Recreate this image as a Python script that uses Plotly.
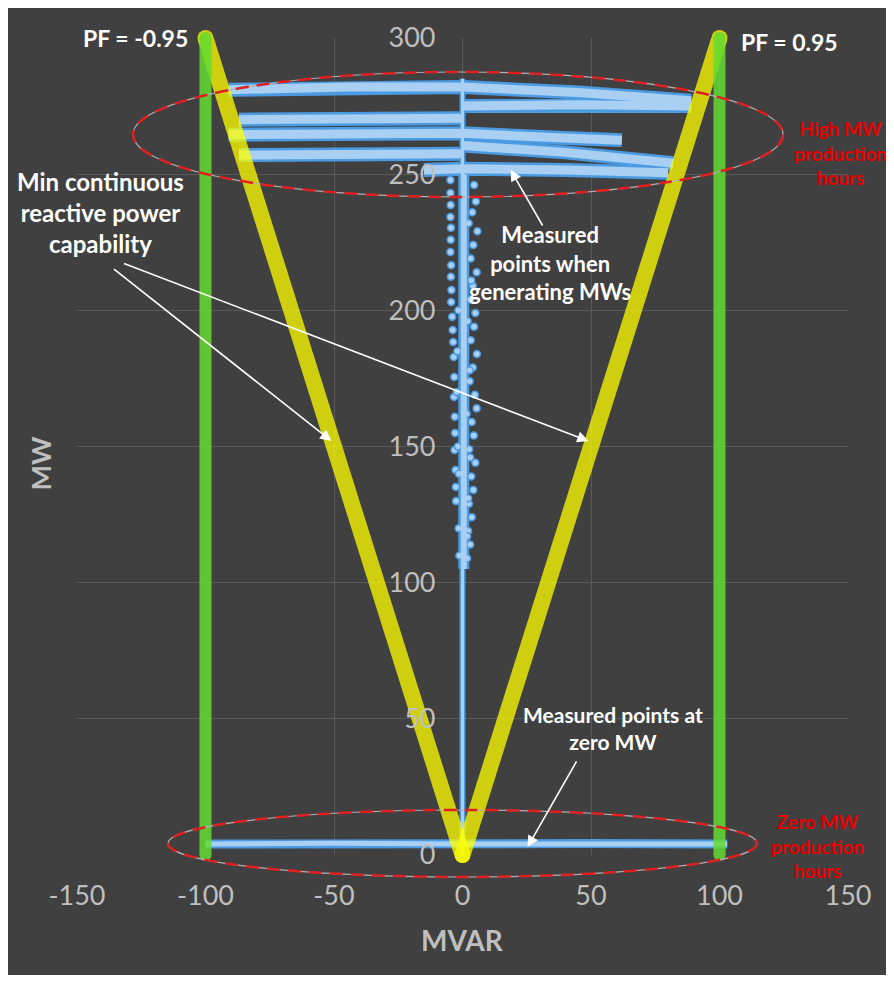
import plotly.graph_objects as go

# axis ticks
x_ticks = [-150, -100, -50, 0, 50, 100, 150]
x_tick_text = ["-150", "-100", "-50", "0", "50", "100", "150"]
y_ticks = [0, 50, 100, 150, 200, 250, 300]

# PF = +/-0.95 limits (MVAR, MW)
pf_neg_x = [-100, -100]
pf_neg_y = [0, 300]
pf_pos_x = [100, 100]
pf_pos_y = [0, 300]

# min continuous reactive power capability (V shape)
cap_left_x = [-100, 0]
cap_left_y = [300, 0]
cap_right_x = [0, 100]
cap_right_y = [0, 300]

# measured points: streaks at high MW
streak1_x = [-91, -45, 0, 45, 89]
streak1_y = [281, 282, 282, 280, 277]
streak2_x = [0, 45, 89]
streak2_y = [275, 275.5, 275]
streak3_x = [-87, -45, 0]
streak3_y = [270, 270, 270.5]
streak4_x = [-91, -45, 0, 35, 62]
streak4_y = [264.5, 265, 265, 263.5, 262.5]
streak5_x = [0, 40, 82]
streak5_y = [260.5, 258, 254]
streak6_x = [-87, -45, 0]
streak6_y = [257, 257, 257.5]
streak7_x = [-15, 0, 40, 80]
streak7_y = [251.5, 252, 251.5, 250.5]

# measured points: zero MW line
zero_x = [-100, -50, 0, 50, 103]
zero_y = [4, 4.3, 4, 4.2, 4]

# measured points: vertical column while ramping
column_x = [0, 0]
column_y = [0, 285]
core_x = [0.5, 0.5]
core_y = [105, 250]

dots_x = [-4.7, -4.7, -4.6, -4.7, -4.5, -4.6, -4.7, -4.4, -4.5, -4.3, -4.4, -4.0, -3.8, -3.6,
          -3.4, -3.2, -3.3, -3.0, -2.9, -3.1, -2.7, -2.6, -2.2, -1.8, -2.5, -1.5, -1.2,
          4.5, 5.2, 3.8, 5.8, 4.2, 3.2, 5.5, 4.0, 3.0, 5.0, 4.5, 3.2, 5.6, 4.0, 2.8, 4.8,
          5.5, 3.6, 4.4, 2.6, 5.0, 3.4, 4.2, 2.5, 3.6, 2.2, 3.0, 1.8,
          2.4, 3.4, 2.0, 2.8, 1.6, 3.0, 2.2, 1.8, -1.6, -2.0, -1.4]
dots_y = [247.9, 243.1, 238.7, 234.3, 230.3, 225.9, 221.4, 216.6, 212.3, 207.5, 203.1, 197.6, 192.8, 188.4,
          182.9, 175.5, 168.2, 160.9, 155, 148.7, 141.4, 135.1, 170, 150, 130, 120, 110,
          246, 240, 236, 229, 224, 219, 214, 209, 204, 199, 194, 189, 184, 179, 174, 169,
          164, 159, 154, 149, 144, 139, 134, 129, 124, 119, 114, 109,
          232, 211, 196, 178, 162, 146, 131, 117, 200, 185, 140]

BLUE_EDGE = "#4b9be2"
BLUE_CORE = "#a9cff2"
YELLOW = "#ffff00"
GREEN = "#64dc32"
TEXT_GREY = "#bfbfbf"
BG = "#404040"
FONT = "Lato"


def join(parts):
    xs, ys = [], []
    for px, py in parts:
        xs += list(px) + [None]
        ys += list(py) + [None]
    return xs, ys


streaks = [(streak1_x, streak1_y), (streak2_x, streak2_y), (streak3_x, streak3_y),
           (streak4_x, streak4_y), (streak5_x, streak5_y), (streak6_x, streak6_y),
           (streak7_x, streak7_y)]
sx, sy = join(streaks)

fig = go.Figure()

# blue measured points
fig.add_trace(go.Scatter(x=sx, y=sy, mode="lines", line=dict(color=BLUE_EDGE, width=14)))
fig.add_trace(go.Scatter(x=zero_x, y=zero_y, mode="lines", line=dict(color=BLUE_EDGE, width=9)))
fig.add_trace(go.Scatter(x=column_x, y=column_y, mode="lines", line=dict(color=BLUE_EDGE, width=6)))
fig.add_trace(go.Scatter(x=core_x, y=core_y, mode="lines", line=dict(color=BLUE_EDGE, width=11)))
fig.add_trace(go.Scatter(x=dots_x, y=dots_y, mode="markers",
                         marker=dict(color=BLUE_CORE, size=7, line=dict(color=BLUE_EDGE, width=1.5))))
fig.add_trace(go.Scatter(x=sx, y=sy, mode="lines", line=dict(color=BLUE_CORE, width=9)))
fig.add_trace(go.Scatter(x=zero_x, y=zero_y, mode="lines", line=dict(color=BLUE_CORE, width=5)))
fig.add_trace(go.Scatter(x=column_x, y=column_y, mode="lines", line=dict(color=BLUE_CORE, width=3)))
fig.add_trace(go.Scatter(x=core_x, y=core_y, mode="lines", line=dict(color=BLUE_CORE, width=6)))

# yellow capability lines
for cx, cy in [(cap_left_x, cap_left_y), (cap_right_x, cap_right_y)]:
    fig.add_trace(go.Scatter(x=cx, y=cy, mode="lines+markers", opacity=0.75, cliponaxis=False,
                             line=dict(color=YELLOW, width=16),
                             marker=dict(color=YELLOW, size=16)))

# green PF lines
for gx, gy in [(pf_neg_x, pf_neg_y), (pf_pos_x, pf_pos_y)]:
    fig.add_trace(go.Scatter(x=gx, y=gy, mode="lines+markers", opacity=0.85, cliponaxis=False,
                             line=dict(color=GREEN, width=12),
                             marker=dict(color=GREEN, size=12)))


def ellipse(x0, x1, y0, y1):
    fig.add_shape(type="circle", xref="paper", yref="paper", x0=x0, x1=x1, y0=y0, y1=y1,
                  line=dict(color="#b0b0b0", width=1.2))
    fig.add_shape(type="circle", xref="paper", yref="paper", x0=x0, x1=x1, y0=y0, y1=y1,
                  line=dict(color="#e02020", width=2.5, dash="13px,8px"))


ellipse(0.0726, 0.9157, 0.8054, 0.9584)
ellipse(0.118, 0.882, -0.0269, 0.0551)

white_bold = dict(family=FONT, color="white", size=24)
red_bold = dict(family=FONT, color="#e60000", size=19)

notes = [
    ("<b>PF = -0.95</b>", -127.2, 300, dict(white_bold, size=23)),
    ("<b>PF = 0.95</b>", 127.2, 298.6, dict(white_bold, size=23)),
    ("<b>Min continuous<br>reactive power<br>capability</b>", -140.9, 235.8, white_bold),
    ("<b>Measured<br>points when<br>generating MWs</b>", 33.9, 217.4, dict(white_bold, size=22)),
    ("<b>Measured points at<br>zero MW</b>", 58.4, 46.6, dict(white_bold, size=21)),
    ("<b>High MW<br>production<br>hours</b>", 147.1, 257.8, red_bold),
    ("<b>Zero MW<br>production<br>hours</b>", 138.1, 3.2, red_bold),
]
for text, x, y, f in notes:
    fig.add_annotation(text=text, x=x, y=y, xref="x", yref="y", showarrow=False, font=f)

# arrows: (head x, head y, tail x, tail y)
arrows = [(-51, 152, -136.2, 215.6), (49, 152, -132.3, 217.4),
          (18.7, 251.6, 31.5, 230.6), (25.3, 2.9, 44.7, 34.9)]
for hx, hy, tx, ty in arrows:
    fig.add_annotation(x=hx, y=hy, ax=tx, ay=ty, xref="x", yref="y", axref="x", ayref="y",
                       text="", showarrow=True, arrowhead=2, arrowsize=1.4, arrowwidth=1.6,
                       arrowcolor="white")

# axis titles
fig.add_annotation(text="<b>MVAR</b>", x=0.5, y=-0.127, xref="paper", yref="paper",
                   showarrow=False, font=dict(family=FONT, size=28, color=TEXT_GREY))
fig.add_annotation(text="<b>MW</b>", x=-0.071, y=0.48, xref="paper", yref="paper", textangle=-90,
                   showarrow=False, font=dict(family=FONT, size=27, color=TEXT_GREY))

fig.update_layout(
    width=886, height=967,
    margin=dict(l=69, r=46, t=30, b=120),
    paper_bgcolor=BG, plot_bgcolor=BG,
    showlegend=False,
    font=dict(family=FONT, color=TEXT_GREY),
)
fig.update_xaxes(range=[-150, 150], tickvals=x_ticks, ticktext=x_tick_text, showgrid=True,
                 gridcolor="#5a5a5a", gridwidth=1, zeroline=False, showline=False, ticks="",
                 tickfont=dict(family=FONT, size=27, color=TEXT_GREY), ticklabelstandoff=22)
fig.update_yaxes(range=[0, 300], tickvals=y_ticks, anchor="free", position=0.5, showgrid=True,
                 gridcolor="#5a5a5a", gridwidth=1, zeroline=False, showline=False, ticks="",
                 tickfont=dict(family=FONT, size=27, color=TEXT_GREY), ticklabelstandoff=27)

fig.write_html("out.html")
